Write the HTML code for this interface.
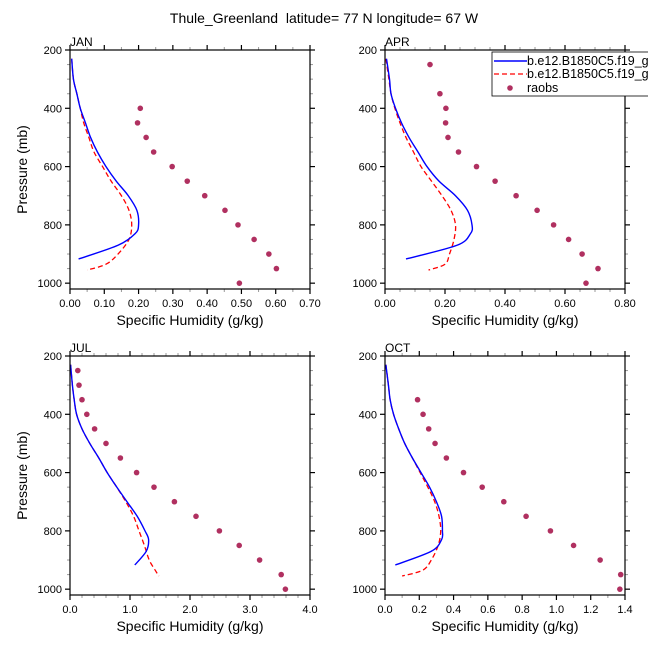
<!DOCTYPE html>
<html><head><meta charset="utf-8"><style>
body{margin:0;background:#fff}
svg{display:block;font-family:"Liberation Sans",Arial,sans-serif}
</style></head><body>
<svg id="c" width="648" height="648" viewBox="0 0 648 648">
<text x="324" y="23" text-anchor="middle" font-size="14" xml:space="preserve">Thule_Greenland  latitude= 77 N longitude= 67 W</text>
</svg>
<script>
const panelNames = ["JAN","APR","JUL","OCT"];
const xMaxes = [0.7,0.8,4.0,1.4];
const xTickLabels = [
 ["0.00","0.10","0.20","0.30","0.40","0.50","0.60","0.70"],
 ["0.00","0.20","0.40","0.60","0.80"],
 ["0.0","1.0","2.0","3.0","4.0"],
 ["0.0","0.2","0.4","0.6","0.8","1.0","1.2","1.4"]];
const yTickLabels = [200,400,600,800,1000];
const modelP1 = [230,300,350,400,450,500,550,600,650,700,750,800,830,870,917];
const modelP2 = [230,300,350,400,450,500,550,600,650,700,750,800,850,900,935,955];
const obsP = [250,300,350,400,450,500,550,600,650,700,750,800,850,900,950,1000];
const blue = [
 [0.005,0.01,0.02,0.03,0.045,0.06,0.08,0.105,0.135,0.17,0.195,0.2,0.19,0.14,0.025],
 [0.005,0.015,0.02,0.035,0.055,0.08,0.11,0.14,0.18,0.235,0.275,0.29,0.285,0.24,0.07],
 [0.01,0.04,0.07,0.11,0.2,0.33,0.48,0.62,0.78,0.95,1.12,1.25,1.31,1.27,1.08],
 [0.005,0.02,0.03,0.05,0.08,0.115,0.16,0.21,0.26,0.3,0.33,0.335,0.33,0.27,0.06]];
const red = [
 [0.005,0.01,0.02,0.03,0.04,0.055,0.07,0.095,0.12,0.15,0.172,0.18,0.172,0.14,0.105,0.05],
 [0.003,0.013,0.02,0.033,0.05,0.07,0.095,0.12,0.155,0.19,0.22,0.235,0.23,0.215,0.2,0.145],
 [0.01,0.04,0.07,0.11,0.2,0.33,0.48,0.62,0.78,0.93,1.06,1.15,1.24,1.32,1.42,1.48],
 [0.005,0.02,0.03,0.05,0.08,0.115,0.16,0.205,0.25,0.29,0.315,0.325,0.31,0.27,0.22,0.1]];
const raobs = [
 [null,null,null,0.205,0.197,0.222,0.244,0.298,0.342,0.393,0.452,0.49,0.537,0.58,0.602,0.494],
 [0.15,null,0.183,0.203,0.202,0.21,0.245,0.305,0.367,0.437,0.507,0.562,0.612,0.657,0.71,0.67],
 [0.13,0.15,0.2,0.28,0.41,0.6,0.84,1.11,1.4,1.74,2.1,2.49,2.82,3.16,3.52,3.59],
 [null,null,0.19,0.222,0.255,0.292,0.358,0.458,0.567,0.693,0.823,0.965,1.1,1.255,1.375,1.37]];

const svg=document.getElementById('c');
const NS="http://www.w3.org/2000/svg";
function mk(tag,attrs,parent){const e=document.createElementNS(NS,tag);for(const k in attrs)e.setAttribute(k,attrs[k]);(parent||svg).appendChild(e);return e;}
function smooth(pts){
  let d='M'+pts[0][0]+','+pts[0][1];
  for(let k=0;k<pts.length-1;k++){
    const p0=pts[k-1]||pts[k],p1=pts[k],p2=pts[k+1],p3=pts[k+2]||p2;
    const c1=[p1[0]+(p2[0]-p0[0])/6,p1[1]+(p2[1]-p0[1])/6];
    const c2=[p2[0]-(p3[0]-p1[0])/6,p2[1]-(p3[1]-p1[1])/6];
    d+=` C${c1[0]},${c1[1]} ${c2[0]},${c2[1]} ${p2[0]},${p2[1]}`;
  }
  return d;
}
const layout=[[70,50],[385,50],[70,356],[385,356]];
const W=240, H=239;
panelNames.forEach((nm,i)=>{
  const [L,T]=layout[i];
  const g=mk('g',{});
  
  
  const xs=v=>L+v/xMaxes[i]*W;
  const ys=p=>T+(p-200)/820*H;
  for(let p=200;p<=1020;p+=50){
    const major=p%200===0, len=major?5:3, col=major?'#000':'#999';
    mk('line',{x1:L-len,x2:L,y1:ys(p),y2:ys(p),stroke:col,'stroke-width':major?1.2:1},g);
    mk('line',{x1:L+W,x2:L+W+len,y1:ys(p),y2:ys(p),stroke:col,'stroke-width':major?1.2:1},g);
  }
  const nT=xTickLabels[i].length-1;
  const step=xMaxes[i]/nT;
  const minorN=(i===2)?5:(i===1?4:2);
  for(let k=0;k<=nT*minorN;k++){
    const v=k*step/minorN, major=k%minorN===0, len=major?5:3, col=major?'#000':'#999';
    mk('line',{x1:xs(v),x2:xs(v),y1:T+H,y2:T+H+len,stroke:col,'stroke-width':major?1.2:1},g);
    mk('line',{x1:xs(v),x2:xs(v),y1:T-len,y2:T,stroke:col,'stroke-width':major?1.2:1},g);
  }
  xTickLabels[i].forEach((t,k)=>{
    const e=mk('text',{x:xs(k*step),y:T+H+18,'text-anchor':'middle','font-size':11},g);e.textContent=t;
    
    
  });
  yTickLabels.forEach(p=>{
    const e=mk('text',{x:L-8,y:ys(p)+4,'text-anchor':'end','font-size':11},g);e.textContent=p;
    
    
  });
  const xt=mk('text',{x:L+W/2,y:T+H+36,'text-anchor':'middle','font-size':14},g);xt.textContent='Specific Humidity (g/kg)';
  
  
  if(L<100){const yt=mk('text',{x:0,y:0,transform:`translate(${L-43},${T+H/2}) rotate(-90)`,'text-anchor':'middle','font-size':14},g);yt.textContent='Pressure (mb)';
    
    }
  const pt=mk('text',{x:L,y:T-4,'font-size':12},g);pt.textContent=nm;
  
  
  const rl=mk('path',{d:smooth(red[i].map((v,k)=>[xs(v),ys(modelP2[k])])),fill:'none',stroke:'#f00','stroke-width':1.3,'stroke-dasharray':'5,3'},g);
  
  
  const bl=mk('path',{d:smooth(blue[i].map((v,k)=>[xs(v),ys(modelP1[k])])),fill:'none',stroke:'#00f','stroke-width':1.4},g);
  
  
  raobs[i].forEach((v,k)=>{ if(v==null)return;
    const c=mk('circle',{cx:xs(v),cy:ys(obsP[k]),r:2.8,fill:'#b03060'},g);
    
    
  });
  mk('rect',{x:L,y:T,width:W,height:H,fill:'none',stroke:'#000','stroke-width':1.2},g);
});
const lg=mk('g',{});


mk('rect',{x:492,y:52,width:170,height:44,fill:'#fff',stroke:'#000','stroke-width':0.8},lg);
mk('line',{x1:494,x2:527,y1:61,y2:61,stroke:'#00f','stroke-width':1.4},lg);
mk('line',{x1:494,x2:527,y1:74,y2:74,stroke:'#f00','stroke-width':1.3,'stroke-dasharray':'5,3'},lg);
mk('circle',{cx:510,cy:88,r:2.8,fill:'#b03060'},lg);
[['b.e12.B1850C5.f19_g',65],['b.e12.B1850C5.f19_g',78],['raobs',92]].forEach(([t,y])=>{
  const e=mk('text',{x:527,y:y,'font-size':12.5},lg);e.textContent=t;
  
  
});
</script>
</body></html>
